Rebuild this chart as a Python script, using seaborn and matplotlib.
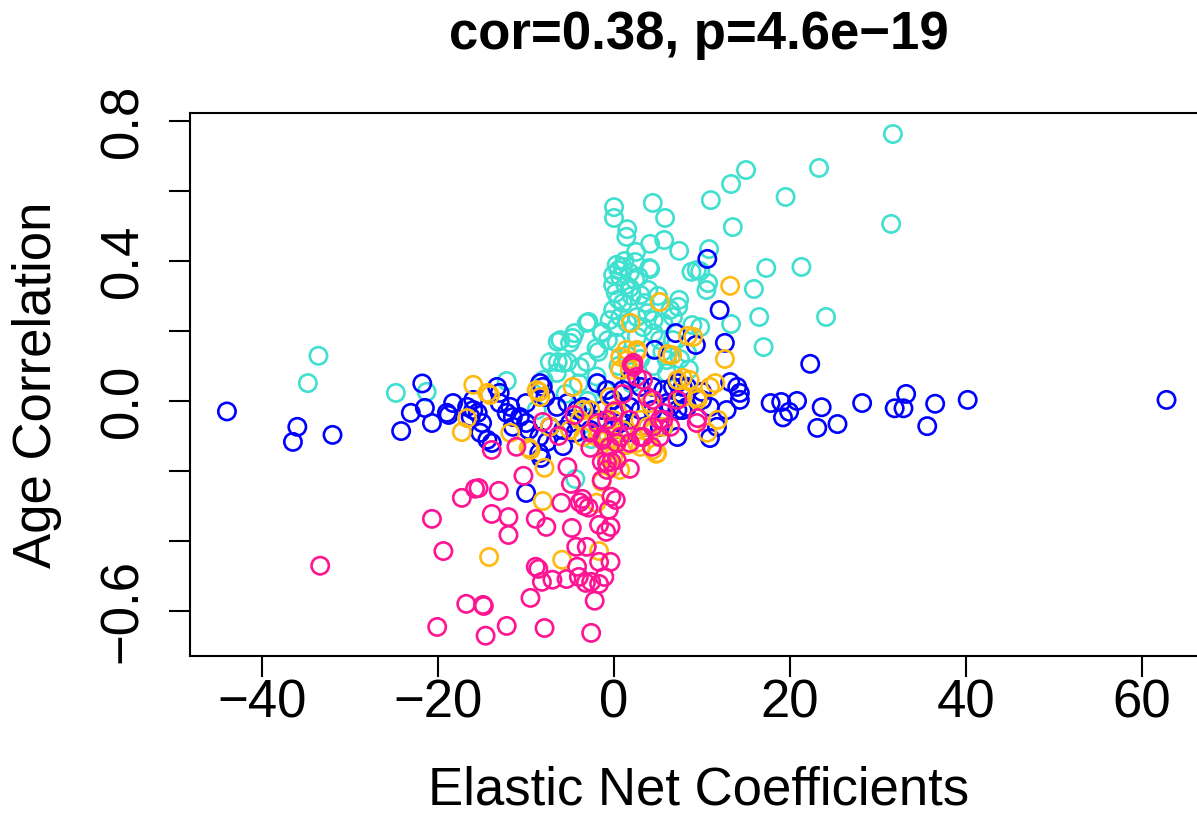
import pandas as pd
import seaborn as sns
import matplotlib.pyplot as plt

# values (x = elastic net coefficient, y = age correlation)
turq_x = [31.7, 31.5, 23.3, 19.5, 15.0, 13.3, 11.0, 13.5, 10.8, 9.8, 17.3, 21.3, 10.7, 10.5, 15.9, 16.5, 24.1, 13.3, 17.0, 9.8,
          0.0, 0.0, 4.4, 5.8, 1.5, 1.4, 4.1, 5.7, 7.4, 2.5, 4.0, 2.4, 0.3, 1.0, 0.5, -0.1, 0.7, 1.8, 2.4, 1.8,
          1.3, -0.1, 0.2, 3.0, 3.9, 9.4, 7.4, 7.3, 6.7, 8.9, -3.1, -4.5, -6.4, -5.0, -7.3, -6.4, -5.3, -1.4, -1.8, -0.1,
          0.7, -0.5, 0.3, 1.5, 2.6, 3.8, 4.5, 5.6, 6.4, 3.3, 4.5, -0.7, 0.3, 2.6, 5.2, 6.7, 8.3, 6.0, -3.1, -3.9,
          8.8, 4.1, -2.9, -4.7, -6.1, -1.4,
          -8.0, -6.5, -4.0, -2.0, 0.5, 1.5, 3.0, 4.5, 6.0, -1.0, 2.0, 5.5, 7.5, -5.5, -3.0, 8.5, -2.0, 1.0, 2.0, 3.5,
          0.5, 2.8, 1.2, 5.0,
          -33.6, -34.8, -24.8, -21.3, -12.2, -4.4, -2.6, -8.8, -5.8]
turq_y = [0.763, 0.506, 0.666, 0.583, 0.66, 0.62, 0.574, 0.497, 0.434, 0.371, 0.38, 0.383, 0.337, 0.317, 0.32, 0.24, 0.24, 0.22, 0.154, 0.211,
          0.554, 0.523, 0.566, 0.523, 0.491, 0.469, 0.449, 0.46, 0.429, 0.426, 0.38, 0.397, 0.389, 0.383, 0.374, 0.36, 0.354, 0.366, 0.346, 0.323,
          0.331, 0.331, 0.309, 0.303, 0.317, 0.374, 0.289, 0.269, 0.24, 0.217, 0.223, 0.194, 0.169, 0.166, 0.111, 0.111, 0.111, 0.194, 0.14, 0.26,
          0.24, 0.231, 0.211, 0.223, 0.24, 0.251, 0.231, 0.223, 0.26, 0.211, 0.194, 0.174, 0.166, 0.183, 0.174, 0.174, 0.137, 0.117, 0.111, 0.097,
          0.369, 0.377, 0.226, 0.18, 0.174, 0.197,
          0.06, 0.08, 0.05, 0.07, 0.1, 0.13, 0.12, 0.1, 0.08, 0.03, 0.05, 0.14, 0.12, 0.02, 0.0, 0.09, 0.15, 0.28, 0.3, 0.28,
          0.29, 0.355, 0.4, 0.3,
          0.129, 0.051, 0.023, 0.026, 0.057, -0.223, -0.109, -0.026, 0.109]

blue_x = [-44.0, -36.0, -36.5, -32.0, -24.2, -21.8, -23.1, -21.5, -20.7, -19.0, -18.3, -18.8, -16.7, -16.0, -16.0, -15.5, -15.0, -16.3, -15.2, -14.4,
          -13.3, -13.0, -13.0, -11.8, -12.2, -11.5, -10.7, -11.5, -10.0, -10.0, -9.7, -8.5, -8.1, -8.5, -13.9, -10.0, -8.3, -7.6, -5.8,
          -8.4, -7.8, -6.5, -5.3, -4.2, -3.5, -5.0, -5.8, -7.3, -1.9, -0.8, -0.1, 1.0, 1.8, 3.0, 4.4, 5.6, 6.7, 8.3, 6.0,
          7.2, 8.3, 4.4, 3.0, 1.8, 1.0, 0.7, -1.3, -1.9, -2.7, -0.1, 1.5, 3.8, 5.2, 7.2, -4.4,
          10.6, 12.0, 12.6, 9.3, 7.0, 4.6, 22.3, 13.2, 14.0, 14.3, 14.3, 10.0, 10.0, 10.9, 12.8, 11.7, 10.9, 7.8, 6.4, 7.2,
          7.8, 17.8, 19.0, 20.8, 19.2, 19.9, 23.6, 23.1, 25.4, 28.2, 31.9, 32.9, 33.2, 36.5, 35.6, 40.2, 62.8]
blue_y = [-0.03, -0.074, -0.117, -0.097, -0.086, 0.05, -0.034, -0.02, -0.063, -0.034, -0.006, -0.04, -0.017, 0.003, -0.026, -0.034, -0.063, -0.046, -0.091, -0.111,
          0.04, 0.023, -0.006, -0.017, -0.034, -0.046, -0.046, -0.074, -0.006, -0.063, -0.083, -0.103, 0.04, -0.149, -0.12, -0.263, -0.163, -0.117, -0.129,
          0.051, 0.011, -0.017, -0.006, -0.026, -0.017, -0.063, -0.083, -0.074, 0.051, 0.031, 0.003, 0.031, 0.06, 0.04, 0.04, 0.031, 0.04, 0.04, -0.006,
          -0.026, -0.017, -0.026, -0.026, -0.017, -0.034, -0.063, -0.026, -0.054, -0.083, -0.083, -0.091, -0.074, -0.074, -0.103, -0.091,
          0.406, 0.26, 0.166, 0.16, 0.194, 0.146, 0.106, 0.054, 0.04, 0.023, 0.003, 0.026, 0.003, -0.017, -0.026, -0.074, -0.106, -0.026, -0.017, 0.051,
          0.04, -0.006, -0.003, 0.0, -0.047, -0.031, -0.018, -0.077, -0.066, -0.006, -0.021, -0.021, 0.02, -0.008, -0.072, 0.003, 0.003]

orange_x = [13.2, 5.2, 8.4, 12.6, 6.1, 1.9, 1.4, 2.6, -16.0, -14.1, -16.7, -17.3, -11.8, -9.5, -8.5, 11.5, 9.5, 11.8, 10.6, 4.9,
            4.1, 5.6, 7.8, 6.6,
            -8.8, -4.7, -3.9, -0.5, 0.3, -0.1, 1.5, 0.7, 1.8, 4.1, 3.0, 7.2, 8.6, 7.8, 9.4, -1.9, -0.8, 0.3, 1.8, 1.0,
            3.0, -3.5, -5.0, -7.3, -8.4, -14.4, -2.7, -3.5, 0.7, 2.6, 9.0, 10.9, 3.8, 4.4, -0.1, 0.7, -0.8, 0.3, 1.5, 2.6,
            -0.8, -0.1,
            -14.2, -8.1, -2.0, -1.4, -7.9, 4.8, -9.7, -1.7, -5.9]
orange_y = [0.329, 0.283, 0.186, 0.12, 0.134, 0.223, 0.146, 0.14, 0.046, 0.017, -0.049, -0.089, -0.091, -0.14, 0.026, 0.051, 0.003, -0.054, -0.091, -0.149,
            -0.091, -0.074, 0.066, 0.131,
            0.031, 0.04, -0.054, 0.011, -0.026, -0.054, 0.117, 0.089, 0.089, -0.006, -0.054, 0.06, 0.06, 0.011, 0.011, -0.103, -0.111, -0.117, -0.12, -0.083,
            -0.131, -0.103, -0.083, -0.074, 0.011, 0.023, -0.026, -0.026, 0.126, 0.146, 0.183, 0.04, -0.074, -0.14, -0.16, -0.197, -0.131, -0.12, -0.126, -0.12,
            -0.16, -0.189,
            -0.446, -0.286, -0.291, -0.231, -0.191, -0.151, -0.134, -0.429, -0.454]

pink_x = [-13.9, -11.1, -10.3, -13.1, -15.4, -13.9, -12.0, -12.0, -14.8, -12.2, -14.6, -7.9, -9.5, -2.6, -2.2, -8.9, -7.7, -6.0, -4.8, -5.3,
          -4.9, -3.9, -3.4, -2.9, -3.6, 1.8, -0.8, -1.4, -0.3, 0.2, -0.6, -1.7, -0.4, -0.9, -4.3, -3.1, -8.9, -8.6, -8.2, -7.0,
          -5.4, -4.2, -4.0, -3.2, -1.7, -0.4, -1.1, -1.7, -2.6, -33.4, -20.7, -19.4, -20.1, -16.8, -14.9, -17.3, -15.8,
          -8.1, -1.9, -0.8, -0.1, 0.7, -1.3, 1.8, 3.8, 3.3, 2.2, 4.4, 7.2, 5.6, 5.2, 9.4, 6.4, 0.3, 3.0, 2.2, 2.6,
          2.0, -2.7, -1.3, -0.5, 0.3, 1.8, 3.3, 4.4, 5.6, 9.5, 5.2, 4.3, -2.7, -1.4, -0.3, -0.8, 1.0, 0.0, -4.5, -6.3]
pink_y = [-0.14, -0.131, -0.214, -0.257, -0.249, -0.323, -0.332, -0.383, -0.586, -0.643, -0.671, -0.649, -0.563, -0.663, -0.571, -0.337, -0.36, -0.291, -0.363, -0.189,
          -0.237, -0.29, -0.3, -0.305, -0.28, -0.194, -0.177, -0.226, -0.274, -0.283, -0.311, -0.354, -0.36, -0.374, -0.417, -0.417, -0.474, -0.48, -0.517, -0.511,
          -0.509, -0.474, -0.503, -0.52, -0.46, -0.46, -0.503, -0.523, -0.517, -0.471, -0.337, -0.429, -0.646, -0.58, -0.583, -0.277, -0.251,
          -0.06, -0.063, -0.054, -0.074, -0.103, -0.111, -0.054, 0.011, 0.06, 0.097, 0.003, 0.003, -0.054, -0.103, -0.063, -0.074, -0.12, -0.103, 0.109, 0.069,
          0.103, -0.091, -0.103, -0.131, -0.169, -0.12, -0.103, -0.074, -0.034, -0.049, -0.054, -0.131, -0.134, -0.174, -0.174, -0.197, 0.02, -0.03, -0.04, -0.1]

groups = ['turquoise', 'blue', 'orange', 'pink']
palette = {'turquoise': '#40E0D0', 'blue': '#0000FF', 'orange': '#FFB90F', 'pink': '#FF1493'}

df = pd.concat([
    pd.DataFrame({'coef': turq_x, 'cor': turq_y, 'group': 'turquoise'}),
    pd.DataFrame({'coef': blue_x, 'cor': blue_y, 'group': 'blue'}),
    pd.DataFrame({'coef': orange_x, 'cor': orange_y, 'group': 'orange'}),
    pd.DataFrame({'coef': pink_x, 'cor': pink_y, 'group': 'pink'}),
], ignore_index=True)

sns.set_style('white')
plt.rcParams['font.family'] = ['Liberation Sans', 'DejaVu Sans']
plt.rcParams['text.color'] = 'black'
plt.rcParams['axes.labelcolor'] = 'black'
plt.rcParams['xtick.color'] = 'black'
plt.rcParams['ytick.color'] = 'black'

fig = plt.figure(figsize=(11.97, 8.19), dpi=100)
ax = fig.add_axes([190 / 1197, 1 - 656 / 819, (1207 - 190) / 1197, (656 - 113) / 819])

sns.scatterplot(data=df, x='coef', y='cor', hue='group', palette=palette, hue_order=groups,
                s=155, linewidth=1.9, legend=False, ax=ax)
# R style open circles
for coll in ax.collections:
    fc = coll.get_facecolors()
    coll.set_edgecolors(fc)
    coll.set_facecolors('none')

ax.set_xlim(-48.2, 67.4)
ax.set_ylim(-0.729, 0.823)
ax.set_xticks([-40, -20, 0, 20, 40, 60])
ax.set_yticks([0.8, 0.6, 0.4, 0.2, 0.0, -0.2, -0.4, -0.6])
ax.set_yticklabels(['0.8', '', '0.4', '', '0.0', '', '', '\u22120.6'], rotation=90, va='center')
ax.tick_params(axis='both', direction='out', length=15, width=1.5, labelsize=38,
               bottom=True, left=True)
ax.tick_params(axis='x', pad=1)
ax.tick_params(axis='y', pad=15)
for sp in ax.spines.values():
    sp.set_visible(True)
    sp.set_color('black')
    sp.set_linewidth(1.5)

ax.set_xlabel('Elastic Net Coefficients', fontsize=38, labelpad=27)
ax.set_ylabel('Age Correlation', fontsize=38, labelpad=26)
ax.set_title('cor=0.38, p=4.6e\u221219', fontsize=38, fontweight='bold', pad=46)

fig.savefig('out.png', dpi=100)
